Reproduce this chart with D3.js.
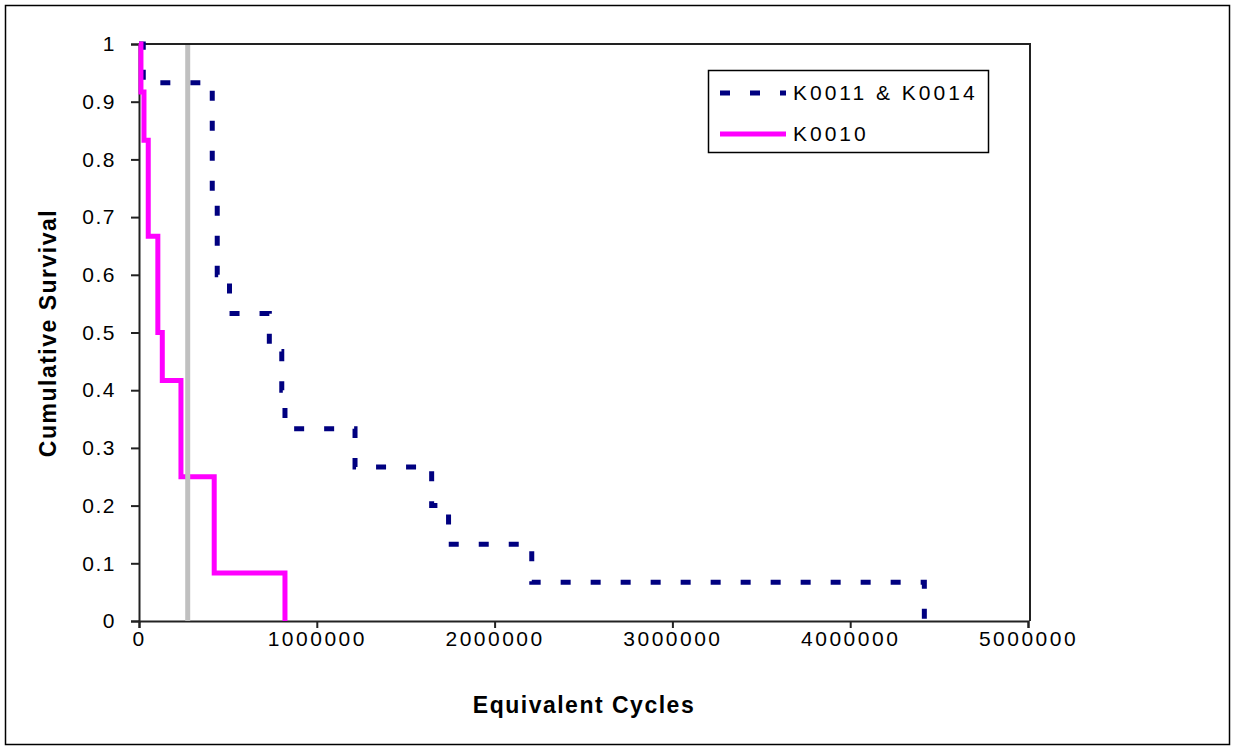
<!DOCTYPE html>
<html>
<head>
<meta charset="utf-8">
<script src="https://cdn.jsdelivr.net/npm/d3@7"></script>
<style>
  body { margin: 0; background: #fff; }
  svg text { font-family: "Liberation Sans", Arial, sans-serif; fill: #000; }
</style>
</head>
<body>
<svg id="chart" width="1233" height="747"></svg>
<script>
// axis ticks
var xTicks = [0, 1000000, 2000000, 3000000, 4000000, 5000000];
var yTicks = [0, 0.1, 0.2, 0.3, 0.4, 0.5, 0.6, 0.7, 0.8, 0.9, 1];

// series: cycles where survival drops, survival after the drop
var seriesNames = ['K0011 & K0014', 'K0010'];
var k0011Cycles = [0, 24000, 412000, 440000, 509000, 733000, 803000, 821000, 1215000, 1646000, 1741000, 2209000, 4417000];
var k0011Survival = [1, 0.933, 0.733, 0.6, 0.533, 0.467, 0.4, 0.333, 0.267, 0.2, 0.133, 0.067, 0];
var k0010Cycles = [0, 11000, 28000, 52000, 106000, 131000, 236000, 423000, 821000];
var k0010Survival = [1, 0.917, 0.833, 0.667, 0.5, 0.417, 0.25, 0.083, 0];

// grey reference line
var refCycles = [274000];

var svg = d3.select('#chart');
var margin = { left: 139, top: 44, right: 1030, bottom: 621 };

var x = d3.scaleLinear().domain([0, 5000000]).range([margin.left, 1028]);
var y = d3.scaleLinear().domain([0, 1]).range([margin.bottom, margin.top]);

// outer frame
svg.append('rect')
  .attr('x', 5.5).attr('y', 5.5)
  .attr('width', 1224).attr('height', 739)
  .attr('fill', '#fff')
  .attr('stroke', '#000')
  .attr('stroke-width', 1.5);

// plot area border (top + right)
svg.append('path')
  .attr('d', 'M' + margin.left + ',' + margin.top + 'H' + margin.right + 'V' + margin.bottom)
  .attr('fill', 'none')
  .attr('stroke', '#222')
  .attr('stroke-width', 2);

var xAxis = svg.append('g')
  .attr('transform', 'translate(0,' + margin.bottom + ')')
  .call(d3.axisBottom(x).tickValues(xTicks).tickFormat(d3.format('d')).tickSize(7).tickPadding(3));

var yAxis = svg.append('g')
  .attr('transform', 'translate(' + margin.left + ',0)')
  .call(d3.axisLeft(y).tickValues(yTicks).tickFormat(d3.format('~g')).tickSize(8).tickPadding(15));

[xAxis, yAxis].forEach(function(g) {
  g.select('.domain').attr('stroke', '#222').attr('stroke-width', 2);
  g.selectAll('.tick line').attr('stroke', '#222').attr('stroke-width', 2);
  g.selectAll('.tick text')
    .attr('fill', '#000')
    .style('font-size', '21px');
});
xAxis.selectAll('.tick text').style('letter-spacing', '2.5px');
yAxis.selectAll('.tick text').style('letter-spacing', '1.5px');

svg.append('text')
  .attr('x', 584).attr('y', 713)
  .attr('text-anchor', 'middle')
  .style('font-size', '23px')
  .style('font-weight', 'bold')
  .style('letter-spacing', '1.5px')
  .text('Equivalent Cycles');

svg.append('text')
  .attr('transform', 'translate(56,333) rotate(-90)')
  .attr('text-anchor', 'middle')
  .style('font-size', '23px')
  .style('font-weight', 'bold')
  .style('letter-spacing', '1.5px')
  .text('Cumulative Survival');

var stepLine = d3.line()
  .x(function(d) { return x(d[0]); })
  .y(function(d) { return y(d[1]); })
  .curve(d3.curveStepAfter);

// navy dashed series
svg.append('path')
  .attr('d', stepLine(d3.zip(k0011Cycles, k0011Survival)))
  .attr('fill', 'none')
  .attr('stroke', '#000080')
  .attr('stroke-width', 5)
  .attr('stroke-dasharray', '10,20');

// magenta series
svg.append('path')
  .attr('d', stepLine(d3.zip(k0010Cycles, k0010Survival)))
  .attr('fill', 'none')
  .attr('stroke', '#ff00ff')
  .attr('stroke-width', 5);

// grey vertical line
svg.selectAll('line.ref')
  .data(refCycles)
  .enter().append('line')
  .attr('class', 'ref')
  .attr('x1', function(d) { return x(d); })
  .attr('x2', function(d) { return x(d); })
  .attr('y1', y(1) + 1)
  .attr('y2', y(0))
  .attr('stroke', '#c0c0c0')
  .attr('stroke-width', 5);

// legend
var legend = svg.append('g');
legend.append('rect')
  .attr('x', 708.5).attr('y', 70.5)
  .attr('width', 280).attr('height', 82)
  .attr('fill', '#fff')
  .attr('stroke', '#000')
  .attr('stroke-width', 1.5);

var legendStyles = [
  { stroke: '#000080', dash: '10,20' },
  { stroke: '#ff00ff', dash: null }
];

seriesNames.forEach(function(name, i) {
  var ly = 93 + i * 41;
  legend.append('line')
    .attr('x1', 720).attr('x2', 786)
    .attr('y1', ly).attr('y2', ly)
    .attr('stroke', legendStyles[i].stroke)
    .attr('stroke-width', 5)
    .attr('stroke-dasharray', legendStyles[i].dash);
  legend.append('text')
    .attr('x', 793).attr('y', ly)
    .attr('dy', '0.35em')
    .style('font-size', '21px')
    .style('letter-spacing', '3px')
    .text(name);
});
</script>
</body>
</html>
